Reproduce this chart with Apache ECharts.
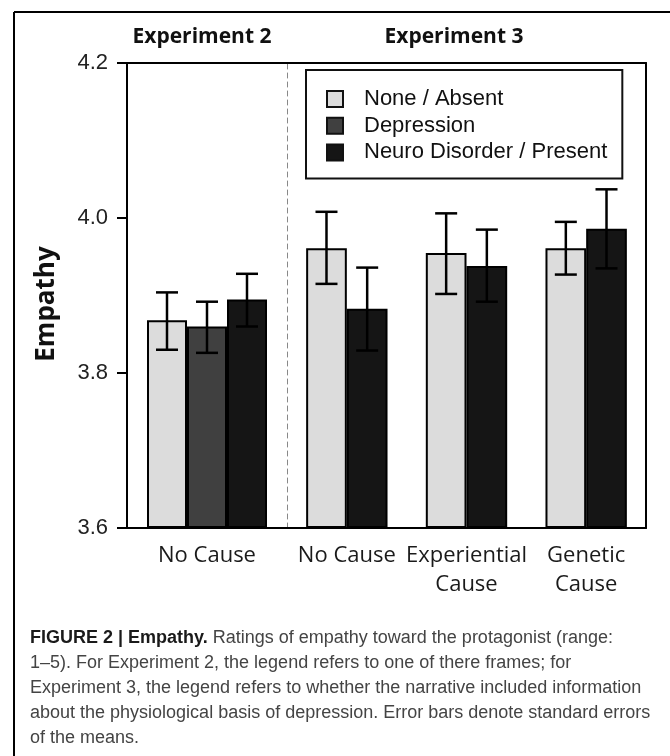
<!DOCTYPE html>
<html><head><meta charset="utf-8">
<script src="https://cdn.jsdelivr.net/npm/echarts@6/dist/echarts.min.js"></script>
<style>html,body{margin:0;padding:0;background:#fff}#c{width:670px;height:756px}</style>
</head><body><div id="c"></div>
<script>
// ---- data ----
const exp2Categories = ['No Cause'];
const exp3Categories = ['No Cause', 'Experiential\nCause', 'Genetic\nCause'];
const seriesNames = ['None / Absent', 'Depression', 'Neuro Disorder / Present'];
const yTicks = [3.6, 3.8, 4.0, 4.2];
const panelTitles = ['Experiment 2', 'Experiment 3'];
const yTitle = 'Empathy';

const exp2None = [3.868];
const exp2NoneErr = [[3.830, 3.904]];
const exp2Depression = [3.860];
const exp2DepressionErr = [[3.826, 3.892]];
const exp2Neuro = [3.895];
const exp2NeuroErr = [[3.860, 3.928]];

const exp3None = [3.961, 3.955, 3.961];
const exp3NoneErr = [[3.915, 4.008], [3.902, 4.006], [3.927, 3.995]];
const exp3Present = [3.883, 3.938, 3.986];
const exp3PresentErr = [[3.829, 3.936], [3.892, 3.985], [3.935, 4.037]];

const captionLines = [
  '{b|FIGURE 2 | Empathy.} Ratings of empathy toward the protagonist (range:',
  '1–5). For Experiment 2, the legend refers to one of there frames; for',
  'Experiment 3, the legend refers to whether the narrative included information',
  'about the physiological basis of depression. Error bars denote standard errors',
  'of the means.'
];

// ---- styles ----
const colors = ['#dcdcdc', '#404040', '#151515'];
const yMin = yTicks[0], yMax = yTicks[yTicks.length - 1], yStep = yTicks[1] - yTicks[0];
const catFont = 'Open Sans';
const numFont = 'Liberation Sans';

const chart = echarts.init(document.getElementById('c'), null, {renderer: 'canvas'});

function errRender(slot, nSlots, frac) {
  return function (params, api) {
    const i = api.value(0);
    const lo = api.coord([i, api.value(1)]);
    const hi = api.coord([i, api.value(2)]);
    const bw = api.size([1, 0])[0] * frac;
    const x = lo[0] + (slot - (nSlots - 1) / 2) * bw;
    const cap = 11;
    const st = {stroke: '#000', lineWidth: 2.5};
    return {type: 'group', children: [
      {type: 'line', shape: {x1: x, y1: lo[1], x2: x, y2: hi[1]}, style: st},
      {type: 'line', shape: {x1: x - cap, y1: hi[1], x2: x + cap, y2: hi[1]}, style: st},
      {type: 'line', shape: {x1: x - cap, y1: lo[1], x2: x + cap, y2: lo[1]}, style: st}
    ]};
  };
}
function errData(arr) { return arr.map((e, i) => [i, e[0], e[1]]); }

const barStyle = c => ({color: c, borderColor: '#000', borderWidth: 2});
const frac0 = 0.25, frac1 = 0.34;

const catAxis = (grid, data) => ({
  gridIndex: grid, type: 'category', data: data, position: 'bottom',
  axisLine: {lineStyle: {color: '#000', width: 2}},
  axisTick: {alignWithLabel: true, length: 9, lineStyle: {color: '#000', width: 2}},
  axisLabel: {fontFamily: catFont, fontSize: 22, lineHeight: 29, color: '#1a1a1a', margin: 13, interval: 0},
  splitLine: {show: false}
});
const topAxis = (grid, data) => ({
  gridIndex: grid, type: 'category', data: data, position: 'top',
  axisLine: {lineStyle: {color: '#000', width: 2}},
  axisTick: {show: false}, axisLabel: {show: false}, splitLine: {show: false}
});
const valAxisBase = grid => ({gridIndex: grid, type: 'value', min: yMin, max: yMax, interval: yStep, startValue: yMin, splitLine: {show: false}});

const option = {
  animation: false,
  backgroundColor: '#fff',
  grid: [
    {left: 127, right: 383, top: 63, bottom: 228, containLabel: false},
    {left: 287, right: 24, top: 63, bottom: 228, containLabel: false}
  ],
  xAxis: [catAxis(0, exp2Categories), catAxis(1, exp3Categories), topAxis(0, exp2Categories), topAxis(1, exp3Categories)],
  yAxis: [
    Object.assign(valAxisBase(0), {
      position: 'left',
      axisLine: {show: true, lineStyle: {color: '#000', width: 2}},
      axisTick: {show: true, length: 10, lineStyle: {color: '#000', width: 2}},
      axisLabel: {fontFamily: numFont, fontSize: 22, color: '#222', margin: 19, formatter: v => v.toFixed(1)},
      name: yTitle, nameLocation: 'middle', nameRotate: 90, nameGap: 67,
      nameTextStyle: {fontFamily: catFont, fontWeight: 'bold', fontSize: 26, lineHeight: 26, color: '#111', padding: [0, 17, 0, 0]}
    }),
    Object.assign(valAxisBase(1), {
      position: 'left',
      axisLine: {show: true, lineStyle: {color: '#888', width: 1, type: [5, 4]}},
      axisTick: {show: false}, axisLabel: {show: false}
    }),
    Object.assign(valAxisBase(1), {
      position: 'right',
      axisLine: {show: true, lineStyle: {color: '#000', width: 2}},
      axisTick: {show: false}, axisLabel: {show: false}
    })
  ],
  legend: {
    data: seriesNames, orient: 'vertical', left: 306, top: 70,
    padding: [18, 15, 15, 20], itemWidth: 16, itemHeight: 16, itemGap: 4.7,
    borderColor: '#111', borderWidth: 2, backgroundColor: '#fff', icon: 'rect',
    itemStyle: {borderColor: '#111', borderWidth: 2},
    textStyle: {fontFamily: numFont, fontSize: 22, lineHeight: 22, color: '#111', padding: [0, 0, 0, 16]},
    selectedMode: false
  },
  series: [
    {type: 'bar', name: seriesNames[0], xAxisIndex: 0, yAxisIndex: 0, data: exp2None, barWidth: '25%', barGap: '0%', itemStyle: barStyle(colors[0])},
    {type: 'bar', name: seriesNames[1], xAxisIndex: 0, yAxisIndex: 0, data: exp2Depression, barWidth: '25%', barGap: '0%', itemStyle: barStyle(colors[1])},
    {type: 'bar', name: seriesNames[2], xAxisIndex: 0, yAxisIndex: 0, data: exp2Neuro, barWidth: '25%', barGap: '0%', itemStyle: barStyle(colors[2])},
    {type: 'bar', name: seriesNames[0], xAxisIndex: 1, yAxisIndex: 1, data: exp3None, barWidth: '34%', barGap: '0%', itemStyle: barStyle(colors[0])},
    {type: 'bar', name: seriesNames[2], xAxisIndex: 1, yAxisIndex: 1, data: exp3Present, barWidth: '34%', barGap: '0%', itemStyle: barStyle(colors[2])},
    {type: 'custom', xAxisIndex: 0, yAxisIndex: 0, z: 5, renderItem: errRender(0, 3, frac0), data: errData(exp2NoneErr), encode: {x: 0, y: [1, 2]}},
    {type: 'custom', xAxisIndex: 0, yAxisIndex: 0, z: 5, renderItem: errRender(1, 3, frac0), data: errData(exp2DepressionErr), encode: {x: 0, y: [1, 2]}},
    {type: 'custom', xAxisIndex: 0, yAxisIndex: 0, z: 5, renderItem: errRender(2, 3, frac0), data: errData(exp2NeuroErr), encode: {x: 0, y: [1, 2]}},
    {type: 'custom', xAxisIndex: 1, yAxisIndex: 1, z: 5, renderItem: errRender(0, 2, frac1), data: errData(exp3NoneErr), encode: {x: 0, y: [1, 2]}},
    {type: 'custom', xAxisIndex: 1, yAxisIndex: 1, z: 5, renderItem: errRender(1, 2, frac1), data: errData(exp3PresentErr), encode: {x: 0, y: [1, 2]}}
  ],
  graphic: [
    {type: 'line', shape: {x1: 14, y1: 12, x2: 670, y2: 12}, style: {stroke: '#000', lineWidth: 2}},
    {type: 'line', shape: {x1: 14, y1: 12, x2: 14, y2: 756}, style: {stroke: '#000', lineWidth: 2}},
    {type: 'text', x: 202, y: 37, style: {text: panelTitles[0], font: 'bold 21px "Open Sans"', fill: '#111', textAlign: 'center', textVerticalAlign: 'middle'}},
    {type: 'text', x: 454, y: 37, style: {text: panelTitles[1], font: 'bold 21px "Open Sans"', fill: '#111', textAlign: 'center', textVerticalAlign: 'middle'}}
  ].concat(captionLines.map((t, i) => ({
    type: 'text', x: 30, y: 638 + i * 25,
    style: {text: t, fontFamily: numFont, fontSize: 18, fill: '#444', textAlign: 'left', textVerticalAlign: 'middle',
      rich: {b: {fontFamily: numFont, fontSize: 18, fontWeight: 'bold', fill: '#1a1a1a', color: '#1a1a1a'}}}
  })))
};
chart.setOption(option);
</script>
</body></html>
